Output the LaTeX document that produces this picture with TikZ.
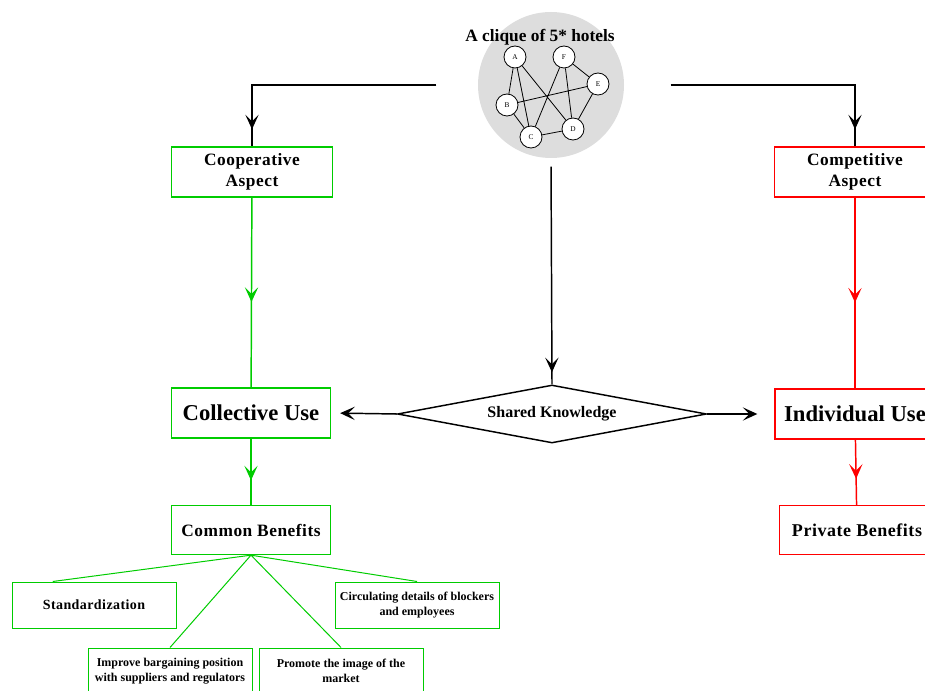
\documentclass[tikz,border=0pt]{standalone}
\usepackage{fontspec}
\setmainfont{Liberation Serif}
\newfontfamily\spaced[LetterSpace=3]{Liberation Serif}
\usetikzlibrary{arrows.meta,shapes.geometric,decorations.markings,calc}
\definecolor{coopgreen}{RGB}{0,204,0}
\definecolor{compred}{RGB}{255,0,0}
\definecolor{cliquegray}{RGB}{221,221,221}
\begin{document}
\begin{tikzpicture}[x=0.75pt,y=-0.75pt,>={Stealth[length=11pt,width=10pt,inset=5pt]},line width=1.1pt,
    box/.style={draw,line width=1pt,align=center},
    coop/.style={box,draw=coopgreen},
    comp/.style={box,draw=compred},
    hotel/.style={circle,draw,fill=white,minimum size=16.5pt,inner sep=0pt,line width=0.6pt,font=\fontsize{5.5}{6}\selectfont},
    midarrow/.style={postaction={decorate,decoration={markings,mark=at position #1 with {\arrow{>}}}}}]
        % Frame
        \useasboundingbox (0,0) rectangle (925,691);
        \clip (0,0) rectangle (925,691);
        % Clique of hotels
        \node[circle,fill=cliquegray,minimum size=109.5pt] (clique) at (551,85) {};
        \node[font=\bfseries\fontsize{13}{15}\selectfont] (title) at (540,37) {A clique of 5* hotels};
        \node[hotel] (a) at (515,57) {A};
        \node[hotel] (f) at (564,57) {F};
        \node[hotel] (e) at (598,84) {E};
        \node[hotel] (b) at (507,105) {B};
        \node[hotel] (c) at (531,137) {C};
        \node[hotel] (d) at (573,129) {D};
        \draw[line width=0.6pt] (a) -- (b) (a) -- (c) (a) -- (d) (f) -- (c) (f) -- (d)
        (f) -- (e) (e) -- (b) (e) -- (d) (b) -- (c) (c) -- (d);
        % Aspects, uses, benefits
        \node[coop,minimum width=120.75pt,minimum height=37.5pt,font=\spaced\bfseries\fontsize{13}{15.5}\selectfont] (coopasp) at (252,172) {Cooperative\\Aspect};
        \node[comp,minimum width=120.75pt,minimum height=37.5pt,font=\spaced\bfseries\fontsize{13}{15.5}\selectfont] (compasp) at (855,172) {Competitive\\Aspect};
        \node[coop,minimum width=119.25pt,minimum height=37.5pt,font=\bfseries\fontsize{17}{20}\selectfont] (coll) at (251,413) {Collective Use};
        \node[comp,minimum width=120pt,minimum height=37.5pt,font=\bfseries\fontsize{17}{20}\selectfont] (indiv) at (855,414) {Individual Use};
        \node[coop,minimum width=119.25pt,minimum height=36.75pt,font=\spaced\bfseries\fontsize{13}{15}\selectfont] (common) at (251,530) {Common Benefits};
        \node[comp,minimum width=116pt,minimum height=36.75pt,font=\spaced\bfseries\fontsize{13.5}{15}\selectfont] (private) at (857,530) {Private Benefits};
        \node[diamond,draw,aspect=5.3,inner sep=0pt,minimum width=231.75pt,minimum height=43.5pt,font=\bfseries\fontsize{12}{14}\selectfont] (shared) at (552,414) {Shared Knowledge};
        % Common benefits
        \node[coop,line width=0.75pt,minimum width=123pt,minimum height=34.5pt,font=\spaced\bfseries\fontsize{10.5}{12}\selectfont] (std) at (94,605) {Standardization};
        \node[coop,line width=0.75pt,minimum width=123pt,minimum height=34.5pt,font=\bfseries\fontsize{9}{11}\selectfont] (circ) at (417,605) {Circulating details of blockers\\and employees};
        \node[coop,line width=0.75pt,minimum width=123pt,minimum height=34.5pt,font=\bfseries\fontsize{9}{11}\selectfont] (impr) at (170,671) {Improve bargaining position\\with suppliers and regulators};
        \node[coop,line width=0.75pt,minimum width=123pt,minimum height=34.5pt,font=\bfseries\fontsize{9}{11}\selectfont] (prom) at (341,671) {Promote the image of the\\market};
        % Connectors
        \draw[midarrow=-12.75pt,shorten <=30.75pt] (clique.west) -| (coopasp.north);
        \draw[midarrow=-12.75pt,shorten <=34.5pt] (clique.east) -| (compasp.north);
        \draw[midarrow=-9pt,shorten <=6pt] (clique.south) -- (shared.north);
        \draw[->,shorten >=6.75pt] (shared.west) -- (coll.east);
        \draw[->,shorten >=12.75pt] (shared.east) -- (indiv.west);
        \draw[coopgreen,midarrow=0.55] (coopasp) -- (coll);
        \draw[coopgreen,midarrow=0.63] (coll) -- (common);
        \draw[compred,midarrow=0.55] (compasp) -- (indiv);
        \draw[compred,midarrow=0.6] (indiv) -- (private);
        \draw[coopgreen,line width=0.75pt] (common.south) -- ($(std.north west)!0.25!(std.north east)$)
        (common.south) -- (impr.north) (common.south) -- (prom.north) (common.south) -- (circ.north);
\end{tikzpicture}
\end{document}
